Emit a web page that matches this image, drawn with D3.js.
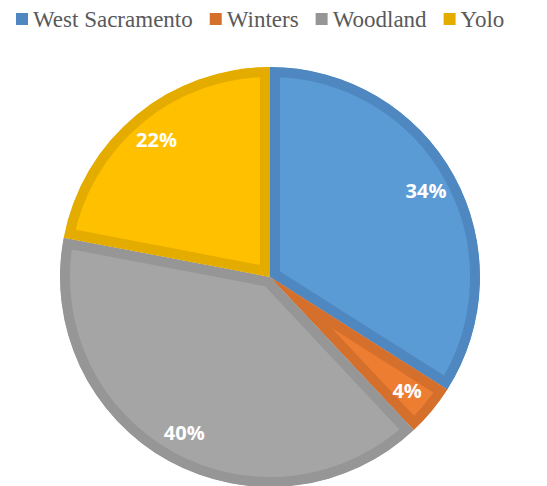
<!DOCTYPE html>
<html>
<head>
<meta charset="utf-8">
<script src="https://cdn.jsdelivr.net/npm/d3@7"></script>
<style>
  body { margin: 0; background: #fff; }
  svg { display: block; }
</style>
</head>
<body>
<svg id="chart" width="547" height="486"></svg>
<script>
let svg = d3.select('#chart');
let svgWidth = 547;
let svgHeight = 486;

// data
let cities = ['West Sacramento', 'Winters', 'Woodland', 'Yolo'];
let shares = [34, 4, 40, 22];
let labels = ['34%', '4%', '40%', '22%'];
let fillColors = ['#5B9BD5', '#ED7D31', '#A5A5A5', '#FFC000'];
let edgeColors = ['#4F88C0', '#D5702C', '#969696', '#E5AC00'];

let cx = 270, cy = 277, radius = 210;

let data = cities.map((c, i) => ({ name: c, value: shares[i], label: labels[i], i: i }));

let pie = d3.pie().value(d => d.value).sort(null);
let arc = d3.arc().innerRadius(0).outerRadius(radius);
let labelArc = d3.arc().innerRadius(178).outerRadius(178);

let arcs = pie(data);

let defs = svg.append('defs');
defs.selectAll('clipPath')
    .data(arcs)
    .join('clipPath')
    .attr('id', d => 'clip' + d.data.i)
    .append('path')
    .attr('d', arc);

let g = svg.append('g').attr('transform', `translate(${cx},${cy})`);

// slices, each with a thick darker inner border
g.selectAll('.slice')
    .data(arcs)
    .join('path')
    .classed('slice', true)
    .attr('d', arc)
    .attr('fill', d => fillColors[d.data.i])
    .attr('stroke', d => edgeColors[d.data.i])
    .attr('stroke-width', 20)
    .attr('stroke-linejoin', 'miter')
    .attr('clip-path', d => `url(#clip${d.data.i})`);

// percentage labels
g.selectAll('.slice-label')
    .data(arcs)
    .join('text')
    .classed('slice-label', true)
    .attr('transform', d => `translate(${labelArc.centroid(d)})`)
    .attr('text-anchor', 'middle')
    .attr('dy', '0.36em')
    .attr('font-family', "'Open Sans', sans-serif")
    .attr('font-weight', 'bold')
    .attr('font-size', 20)
    .attr('fill', '#fff')
    .text(d => d.data.label);

// legend
let legend = svg.append('g');
let lx = 16;
data.forEach((d, i) => {
    legend.append('rect')
        .attr('x', lx).attr('y', 13)
        .attr('width', 12).attr('height', 12)
        .attr('fill', edgeColors[i]);
    let t = legend.append('text')
        .attr('x', lx + 17).attr('y', 27)
        .attr('font-family', "'Liberation Serif'")
        .attr('font-size', 23)
        .attr('fill', '#595959')
        .text(d.name);
    lx += 17 + t.node().getComputedTextLength() + 17;
});
</script>
</body>
</html>
